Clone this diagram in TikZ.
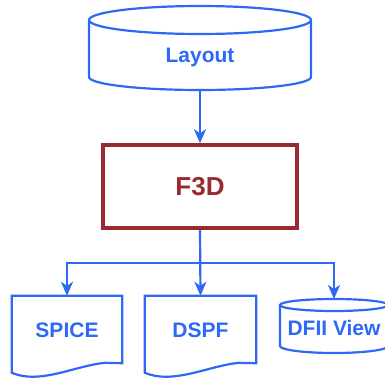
\documentclass[tikz,border=0pt]{standalone}
\usepackage{fontspec}
\setmainfont{Liberation Sans}
\usetikzlibrary{arrows.meta}
\definecolor{fblue}{RGB}{45,105,245}
\definecolor{fred}{RGB}{155,42,47}
\begin{document}
\begin{tikzpicture}[x=1pt,y=-1pt,
  lbl/.style={font=\bfseries\fontsize{21}{24}\selectfont, text=fblue, inner sep=0pt, text height=15pt, text depth=0pt},
  shp/.style={draw=fblue, line width=2.2pt},
  arr/.style={draw=fblue, line width=2.2pt, -{Stealth[length=14pt,width=12pt,inset=4pt]}},
  proc/.style={draw=fred, line width=3.5pt, text=fred, font=\bfseries\fontsize{26}{30}\selectfont, minimum width=194pt, minimum height=83pt, text height=18.6pt, text depth=0pt}]
\useasboundingbox (0,0) rectangle (385,381);
% Layout cylinder
\draw[shp] (200,20) ellipse [x radius=111, y radius=14];
\draw[shp] (89,20) -- (89,77) arc[start angle=180,end angle=0,x radius=111,y radius=13] -- (311,20);
\node[lbl] (layout) at (200,55) {Layout};
\coordinate (layoutbot) at (200,90);
% F3D
\node[proc] (f3d) at (200,186.5) {F3D};
% SPICE document
\node[lbl, minimum width=110pt, minimum height=67pt] (spice) at (67,329.5) {SPICE};
\draw[shp] (spice.north west) -- ++(0,77) .. controls +(28,12) and +(-30,3) .. ++(93,-10) -- (spice.south east) -- (spice.north east) -- cycle;
% DSPF document
\node[lbl, minimum width=111pt, minimum height=67pt] (dspf) at (200.5,329.5) {DSPF};
\draw[shp] (dspf.north west) -- ++(0,77) .. controls +(28,12) and +(-30,3) .. ++(94,-10) -- (dspf.south east) -- (dspf.north east) -- cycle;
% DFII View cylinder
\draw[shp] (334,305) ellipse [x radius=54, y radius=6];
\draw[shp] (280,305) -- (280,346) arc[start angle=180,end angle=0,x radius=54,y radius=7] -- (388,305);
\node[lbl] (dfii) at (334,328) {DFII View};
\coordinate (dfiitop) at (334,299);
% connectors
\coordinate (split) at (200,263);
\draw[arr] (layoutbot) -- (f3d.north);
\draw[arr] (f3d.south) -- (dspf.north);
\draw[arr] (split) -| (spice.north);
\draw[arr] (split) -| (dfiitop);
\end{tikzpicture}
\end{document}
